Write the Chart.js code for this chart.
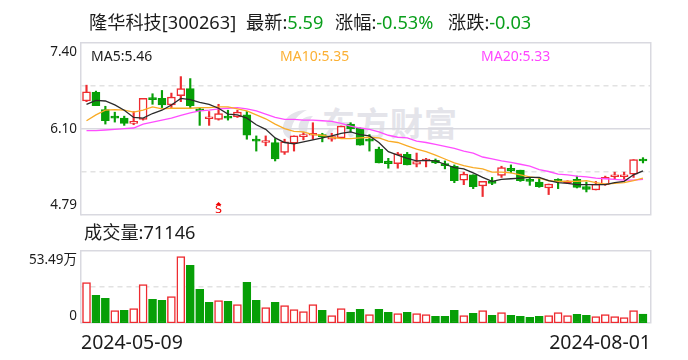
<!DOCTYPE html>
<html lang="zh-CN">

<head>
    <meta charset="UTF-8">
    <title>隆华科技</title>
    <script src="https://cdn.jsdelivr.net/npm/chart.js"></script>
    <style>
        body { margin: 0; background: #fff; }
        #janela { position: relative; width: 688px; height: 360px; overflow: hidden; font-family: "Noto Sans", "Noto Sans CJK SC", sans-serif; color: #1c1c1c; }
        #janela canvas { position: absolute; left: 0; }
        #precoCanvas { top: 0; }
        #volCanvas { top: 235px; }
        .txt { position: absolute; white-space: nowrap; line-height: 1; }
        .verde { color: #0a9f1c; }
        .titulo { font-size: 18.2px; top: 13px; }
        .ma { font-size: 14px; top: 49px; }
        .eixo { font-size: 13.5px; right: 611px; }
        .data { font-size: 19.5px; top: 332px; }
        #marca { position: absolute; left: 322px; top: 107px; font-size: 33px; font-weight: 700; color: #e4e4ea; letter-spacing: 1px; line-height: 1; white-space: nowrap; }
        #logo { position: absolute; left: 277px; top: 108px; }
    </style>
</head>

<body>
    <div id="janela">
        <svg id="logo" width="40" height="34" viewBox="0 0 40 34">
            <path d="M6 18 C8 8 18 2 30 2 C22 6 15 12 14 24 C13 30 18 32 24 32 C14 34 4 28 6 18 Z" fill="#e4e4ea"/>
            <path d="M22 22 C20 14 26 8 36 8 C32 12 30 18 30 26 C28 26 24 26 22 22 Z" fill="#e4e4ea"/>
        </svg>
        <div id="marca">东方财富</div>
        <canvas id="precoCanvas" width="688" height="230"></canvas>
        <canvas id="volCanvas" width="688" height="100"></canvas>

        <span class="txt titulo" style="left: 89px">隆华科技[300263]</span>
        <span class="txt titulo" style="left: 246px">最新:<span class="verde">5.59</span></span>
        <span class="txt titulo" style="left: 335px">涨幅:<span class="verde">-0.53%</span></span>
        <span class="txt titulo" style="left: 448px">涨跌:<span class="verde">-0.03</span></span>

        <span class="txt ma" style="left: 91px; color: #1c1c1c">MA5:5.46</span>
        <span class="txt ma" style="left: 280px; color: #fbb034">MA10:5.35</span>
        <span class="txt ma" style="left: 481px; color: #ff46ff">MA20:5.33</span>

        <span class="txt eixo" id="t0" style="top: 45px"></span>
        <span class="txt eixo" id="t1" style="top: 122px"></span>
        <span class="txt eixo" id="t2" style="top: 198px"></span>

        <span class="txt" style="left: 84px; top: 223px; font-size: 18.2px">成交量:71146</span>
        <span class="txt eixo" id="v0" style="top: 253px"></span>
        <span class="txt eixo" id="v1" style="top: 309px"></span>

        <span class="txt data" id="d0" style="left: 81px"></span>
        <span class="txt data" id="d1" style="right: 37px"></span>
    </div>
</body>

<script>

    const abertura = [6.52, 6.65, 6.39, 6.27, 6.26, 6.18, 6.24, 6.55, 6.56, 6.46, 6.60, 6.71, 6.38, 6.25, 6.24, 6.29, 6.28, 6.31, 5.93, 5.89,
        5.89, 5.74, 5.88, 5.98, 6.00, 6.00, 5.94, 5.96, 6.17, 6.11, 5.93, 5.79, 5.61, 5.57, 5.71, 5.56, 5.61, 5.62, 5.56, 5.53,
        5.32, 5.40, 5.23, 5.29, 5.39, 5.50, 5.47, 5.31, 5.29, 5.20, 5.33, 5.28, 5.33, 5.22, 5.17, 5.25, 5.37, 5.37, 5.41, 5.63];
    const fechamento = [6.66, 6.45, 6.22, 6.26, 6.18, 6.20, 6.56, 6.54, 6.46, 6.58, 6.71, 6.45, 6.37, 6.27, 6.33, 6.26, 6.35, 6.00, 5.91, 5.92,
        5.64, 5.90, 5.99, 6.01, 6.02, 5.98, 5.98, 6.14, 6.10, 5.85, 5.91, 5.58, 5.57, 5.72, 5.55, 5.60, 5.64, 5.58, 5.54, 5.31,
        5.41, 5.22, 5.30, 5.27, 5.51, 5.46, 5.31, 5.30, 5.22, 5.26, 5.30, 5.31, 5.21, 5.18, 5.26, 5.36, 5.39, 5.39, 5.63, 5.61];
    const maxima = [6.76, 6.67, 6.44, 6.35, 6.29, 6.36, 6.56, 6.63, 6.68, 6.64, 6.89, 6.86, 6.41, 6.36, 6.47, 6.38, 6.38, 6.36, 5.99, 5.99,
        5.95, 5.94, 5.99, 6.04, 6.19, 6.03, 6.03, 6.14, 6.19, 6.11, 6.01, 5.82, 5.65, 5.74, 5.74, 5.73, 5.65, 5.64, 5.61, 5.55,
        5.44, 5.40, 5.30, 5.36, 5.53, 5.55, 5.47, 5.36, 5.36, 5.26, 5.34, 5.31, 5.38, 5.29, 5.30, 5.38, 5.44, 5.44, 5.63, 5.66];
    const minima = [6.51, 6.45, 6.17, 6.20, 6.15, 6.16, 6.23, 6.47, 6.42, 6.42, 6.51, 6.41, 6.15, 6.15, 6.23, 6.23, 6.27, 5.94, 5.76, 5.84,
        5.61, 5.71, 5.76, 5.93, 5.94, 5.90, 5.91, 5.95, 6.05, 5.85, 5.76, 5.58, 5.50, 5.50, 5.55, 5.52, 5.52, 5.57, 5.49, 5.28,
        5.25, 5.19, 5.07, 5.25, 5.36, 5.43, 5.30, 5.24, 5.21, 5.10, 5.19, 5.27, 5.20, 5.14, 5.17, 5.24, 5.33, 5.33, 5.36, 5.58];

    const ma5 = [6.47, 6.53, 6.52, 6.46, 6.38, 6.27, 6.26, 6.33, 6.38, 6.46, 6.56, 6.54, 6.50, 6.47, 6.41, 6.32, 6.31, 6.26, 6.16, 6.09,
        5.96, 5.89, 5.87, 5.90, 5.93, 5.96, 5.99, 6.03, 6.05, 6.01, 5.99, 5.89, 5.75, 5.70, 5.65, 5.61, 5.62, 5.61, 5.56, 5.51,
        5.49, 5.43, 5.36, 5.30, 5.33, 5.34, 5.35, 5.36, 5.36, 5.31, 5.28, 5.27, 5.25, 5.25, 5.25, 5.25, 5.28, 5.30, 5.40, 5.46];
    const ma10 = [6.22, 6.31, 6.38, 6.39, 6.38, 6.35, 6.38, 6.43, 6.40, 6.41, 6.41, 6.41, 6.42, 6.42, 6.43, 6.43, 6.40, 6.37, 6.31, 6.25,
        6.17, 6.10, 6.06, 6.05, 6.01, 6.00, 5.97, 5.95, 5.95, 5.96, 5.97, 5.96, 5.91, 5.89, 5.84, 5.79, 5.75, 5.70, 5.64, 5.58,
        5.54, 5.51, 5.49, 5.44, 5.44, 5.43, 5.40, 5.37, 5.35, 5.31, 5.30, 5.30, 5.30, 5.31, 5.28, 5.26, 5.27, 5.28, 5.31, 5.35];
    const ma20 = [6.07, 6.07, 6.08, 6.09, 6.10, 6.11, 6.17, 6.20, 6.23, 6.26, 6.30, 6.34, 6.37, 6.38, 6.40, 6.41, 6.42, 6.40, 6.37, 6.32,
        6.27, 6.24, 6.24, 6.23, 6.23, 6.22, 6.21, 6.18, 6.14, 6.11, 6.09, 6.05, 6.00, 5.97, 5.96, 5.91, 5.89, 5.86, 5.83, 5.80,
        5.76, 5.73, 5.67, 5.64, 5.61, 5.59, 5.56, 5.53, 5.48, 5.45, 5.41, 5.40, 5.38, 5.37, 5.35, 5.34, 5.33, 5.32, 5.32, 5.33];

    // volume em 万
    const volume = [32.5, 22.3, 19.9, 10.0, 10.2, 11.6, 30.9, 19.1, 18.3, 21.3, 53.49, 46.5, 27.2, 16.7, 18.0, 17.5, 14.8, 32.8, 18.3, 12.4,
        16.7, 14.0, 10.8, 9.1, 14.8, 10.2, 5.9, 11.6, 8.6, 11.0, 6.7, 11.0, 8.6, 7.5, 8.6, 7.5, 6.7, 5.4, 5.4, 10.2,
        5.9, 7.8, 10.0, 6.2, 8.3, 6.2, 5.4, 4.6, 5.4, 5.9, 8.3, 5.9, 7.0, 6.2, 5.1, 6.7, 5.1, 4.3, 10.0, 7.11];
    const volumeSobe = [1, 0, 0, 1, 0, 1, 1, 0, 0, 1, 1, 0, 0, 0, 1, 0, 1, 0, 0, 1,
        0, 1, 1, 1, 1, 0, 1, 1, 0, 0, 1, 0, 0, 1, 0, 1, 1, 0, 0, 0,
        1, 0, 1, 0, 1, 0, 0, 0, 0, 1, 1, 1, 0, 0, 1, 1, 1, 1, 1, 0];

    const ticksPreco = [7.40, 6.10, 4.79];
    const rotulosVolume = ['53.49万', '0'];
    const datas = ['2024-05-09', '2024-08-01'];
    const indiceSinal = 14;

    const VERMELHO = '#ee2b30';
    const VERDE = '#079f07';
    const COR_GRADE = '#d9d9e0';
    const COR_TRACO = '#e2e2e2';

    t0.innerHTML = ticksPreco[0].toFixed(2);
    t1.innerHTML = ticksPreco[1].toFixed(2);
    t2.innerHTML = ticksPreco[2].toFixed(2);
    v0.innerHTML = rotulosVolume[0];
    v1.innerHTML = rotulosVolume[1];
    d0.innerHTML = datas[0];
    d1.innerHTML = datas[1];

    // eixos y: um para a moldura (linhas solidas), outro para as tracejadas
    function eixosY(min, max, moldura, tracejadas) {
        return {
            y: {
                position: 'left', min: min, max: max,
                afterBuildTicks: function (eixo) { eixo.ticks = tracejadas.map(function (v) { return { value: v }; }); },
                ticks: { display: false },
                grid: { color: COR_TRACO, lineWidth: 1.5, drawTicks: false },
                border: { color: COR_GRADE, width: 1.5, dash: [5, 4] }
            },
            yMoldura: {
                position: 'right', min: min, max: max,
                afterBuildTicks: function (eixo) { eixo.ticks = moldura.map(function (v) { return { value: v }; }); },
                ticks: { display: false },
                grid: { color: COR_GRADE, lineWidth: 1.5, drawTicks: false },
                border: { color: COR_GRADE, width: 1.5 }
            }
        };
    }

    // offset false: a escala linear nao recebe a meia barra extra do tipo bar
    const eixoX = { type: 'linear', display: false, offset: false, min: -0.584, max: 59.85 };

    function pontos(valores) {
        return valores.map(function (v, i) { return { x: i, y: v }; });
    }

    function linhaMA(valores, cor) {
        return {
            type: 'line', data: pontos(valores), borderColor: cor, borderWidth: 1.3,
            pointRadius: 0, tension: 0, order: 0
        };
    }

    const sobe = abertura.map(function (a, i) { return fechamento[i] >= a; });

    // o S vermelho fica preso ao indice do dia, pela escala
    const pluginSinal = {
        id: 'sinal',
        afterDatasetsDraw: function (chart) {
            const ctx = chart.ctx;
            const px = chart.scales.x.getPixelForValue(indiceSinal);
            const base = chart.chartArea.bottom;
            ctx.save();
            ctx.fillStyle = '#f00000';
            ctx.font = '11px "DejaVu Sans"';
            ctx.textAlign = 'center';
            ctx.textBaseline = 'bottom';
            ctx.fillText('S', px, base + 1);
            ctx.beginPath();
            ctx.moveTo(px, base - 13);
            ctx.lineTo(px + 3, base - 10);
            ctx.lineTo(px - 3, base - 10);
            ctx.fill();
            ctx.restore();
        }
    };

    new Chart(document.getElementById('precoCanvas'), {
        type: 'bar',
        data: {
            datasets: [
                linhaMA(ma5, '#2b2b2b'),
                linhaMA(ma10, '#f9ab25'),
                linhaMA(ma20, '#ff4dff'),
                {
                    data: abertura.map(function (a, i) { return { x: i, y: [a, fechamento[i]] }; }),
                    backgroundColor: sobe.map(function (s) { return s ? '#ffffff' : VERDE; }),
                    borderColor: sobe.map(function (s) { return s ? VERMELHO : VERDE; }),
                    borderWidth: 1.5, borderSkipped: false, barThickness: 8, minBarLength: 2,
                    grouped: false, order: 1
                },
                {
                    data: minima.map(function (m, i) { return { x: i, y: [m, maxima[i]] }; }),
                    backgroundColor: sobe.map(function (s) { return s ? VERMELHO : VERDE; }),
                    barThickness: 1.5, grouped: false, order: 2
                }
            ]
        },
        options: {
            responsive: false,
            animation: false,
            layout: { padding: { left: 81, right: 37, top: 43, bottom: 15 } },
            plugins: { legend: { display: false }, tooltip: { enabled: false } },
            scales: Object.assign({ x: eixoX }, eixosY(4.79, 7.40, [4.79, 6.095, 7.40], [5.4425, 6.7475]))
        },
        plugins: [pluginSinal]
    });

    new Chart(document.getElementById('volCanvas'), {
        type: 'bar',
        data: {
            datasets: [{
                data: pontos(volume),
                backgroundColor: volumeSobe.map(function (s) { return s ? '#ffffff' : VERDE; }),
                borderColor: volumeSobe.map(function (s) { return s ? VERMELHO : VERDE; }),
                borderWidth: 1.5, borderSkipped: false, barThickness: 8
            }]
        },
        options: {
            responsive: false,
            animation: false,
            layout: { padding: { left: 81, right: 37, top: 16, bottom: 12 } },
            plugins: { legend: { display: false }, tooltip: { enabled: false } },
            scales: Object.assign({ x: eixoX }, eixosY(0, 58, [0, 58], [29]))
        }
    });
</script>

</html>
